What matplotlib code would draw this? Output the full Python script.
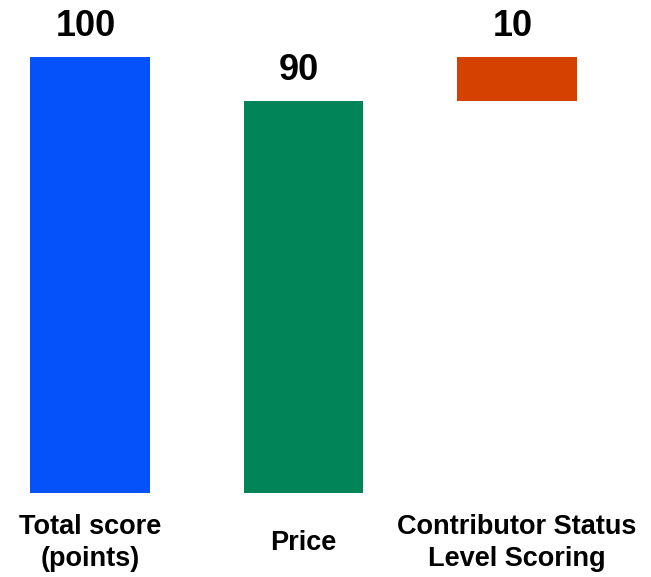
import matplotlib
matplotlib.use("Agg")
import matplotlib.pyplot as plt

categories = ["Total score\n(points)", "Price", "Contributor Status\nLevel Scoring"]
values = [100, 90, 10]
kinds = ["total", "step", "step"]
colors = ["#0552FA", "#008458", "#D54100"]

plt.rcParams['font.family'] = ['Liberation Sans', 'DejaVu Sans']

fig = plt.figure(figsize=(6.51, 5.77), dpi=100)
ax = fig.add_axes([0, (577 - 493) / 577, 1, 493 / 577])

# waterfall bottoms
bottoms = []
running = 0
for v, k in zip(values, kinds):
    if k == "total":
        bottoms.append(0)
    else:
        bottoms.append(running)
        running += v

x = list(range(len(values)))
ax.bar(x, values, bottom=bottoms, width=0.562, color=colors)

for xi, v, b in zip(x, values, bottoms):
    ax.annotate(str(v), (xi - 0.02, b + v), xytext=(0, 9), textcoords="offset points",
                ha="center", va="bottom", fontsize=26, fontweight="bold")

ax.set_xlim(-90 / 213.5, (651 - 90) / 213.5)
ax.set_ylim(0, 493 / 4.36)
ax.set_xticks(x)
ax.set_xticklabels(categories, fontsize=19.5, fontweight="bold", linespacing=1.25)
for lab in ax.get_xticklabels():
    lab.set_va("center")
    lab.set_ha("center")
    lab.set_multialignment("center")
ax.tick_params(axis="x", length=0, pad=36)
ax.set_yticks([])
for s in ax.spines.values():
    s.set_visible(False)

fig.savefig("out.png", dpi=100)
